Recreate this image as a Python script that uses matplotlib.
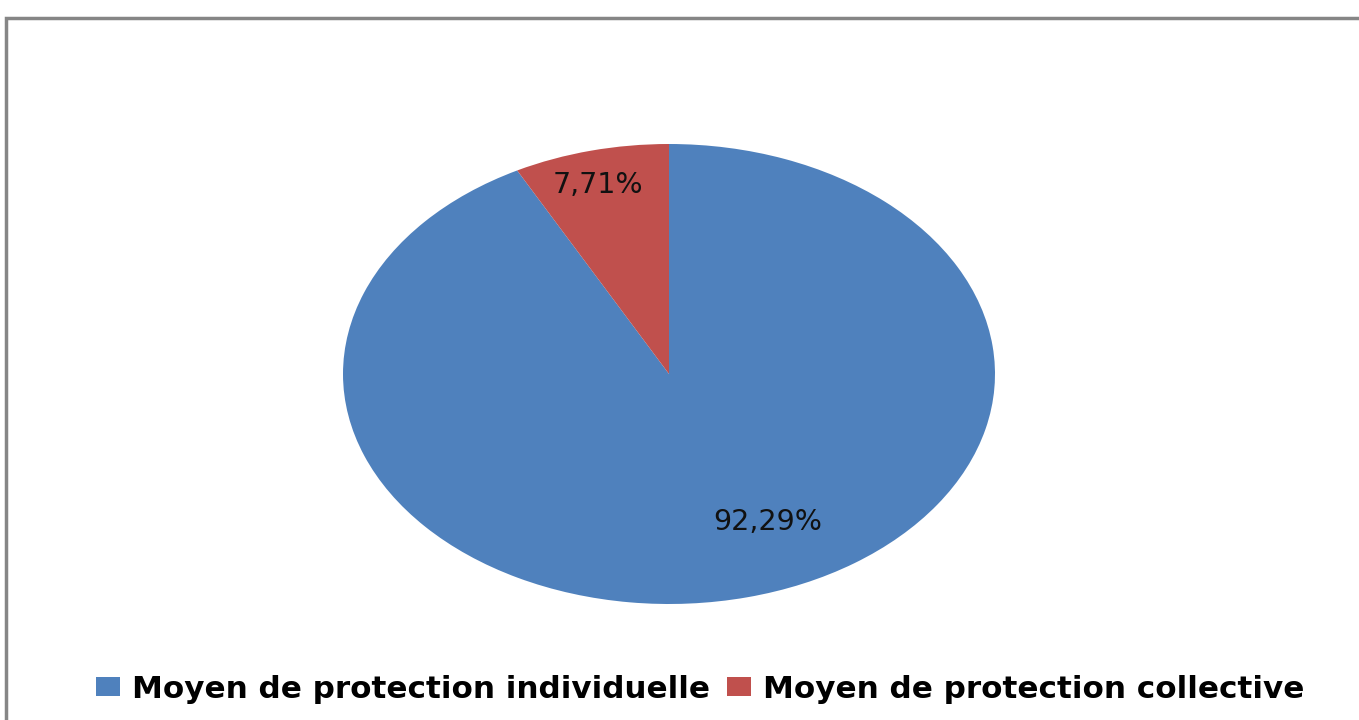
import matplotlib
matplotlib.use("Agg")
import matplotlib.pyplot as plt
from matplotlib.patches import Rectangle, Patch

categories = ["Moyen de protection individuelle", "Moyen de protection collective"]
values = [92.29, 7.71]
pct_labels = ["92,29%", "7,71%"]
colors = ["#4F81BD", "#C0504D"]

W, H = 1359, 720
fig = plt.figure(figsize=(W / 100, H / 100), dpi=100)
fig.patch.set_facecolor("white")

# outer chart frame (partially cut by the image edges)
fig.patches.append(Rectangle((6 / W, -0.1), 1.2, (720 - 18) / H + 0.1,
                             transform=fig.transFigure, fill=False,
                             edgecolor="#868686", linewidth=2.5))

# pie axes: ellipse center (669,374), radii 326 x 230 px
cx, cy, rx, ry = 669, 374, 326, 230
ax = fig.add_axes([(cx - rx) / W, (H - cy - ry) / H, 2 * rx / W, 2 * ry / H])
wedges, texts, autotexts = ax.pie(values, colors=colors, startangle=90,
                                  counterclock=False, autopct="%1.2f%%",
                                  pctdistance=0.8,
                                  wedgeprops=dict(linewidth=0))
ax.set_aspect("auto")
ax.set_xlim(-1, 1)
ax.set_ylim(-1, 1)
for t, lab in zip(autotexts, pct_labels):
    t.set_text(lab)
    t.set_fontsize(20.5)
    t.set_color("#111111")
    t.set_family("DejaVu Sans")
# fine-tune label placement to reference
autotexts[0].set_position((0.304, -0.643))
autotexts[1].set_position((-0.218, 0.822))

handles = [Patch(facecolor=c, edgecolor="none") for c in colors]
leg = fig.legend(handles, categories, loc="center", bbox_to_anchor=(700 / W, (H - 689) / H),
                 ncol=2, frameon=False, handlelength=0.78, handleheight=0.56,
                 handletextpad=0.38, columnspacing=0.55,
                 prop=dict(family="DejaVu Sans", weight="bold", size=22.3))

fig.savefig("out.png", dpi=100)
